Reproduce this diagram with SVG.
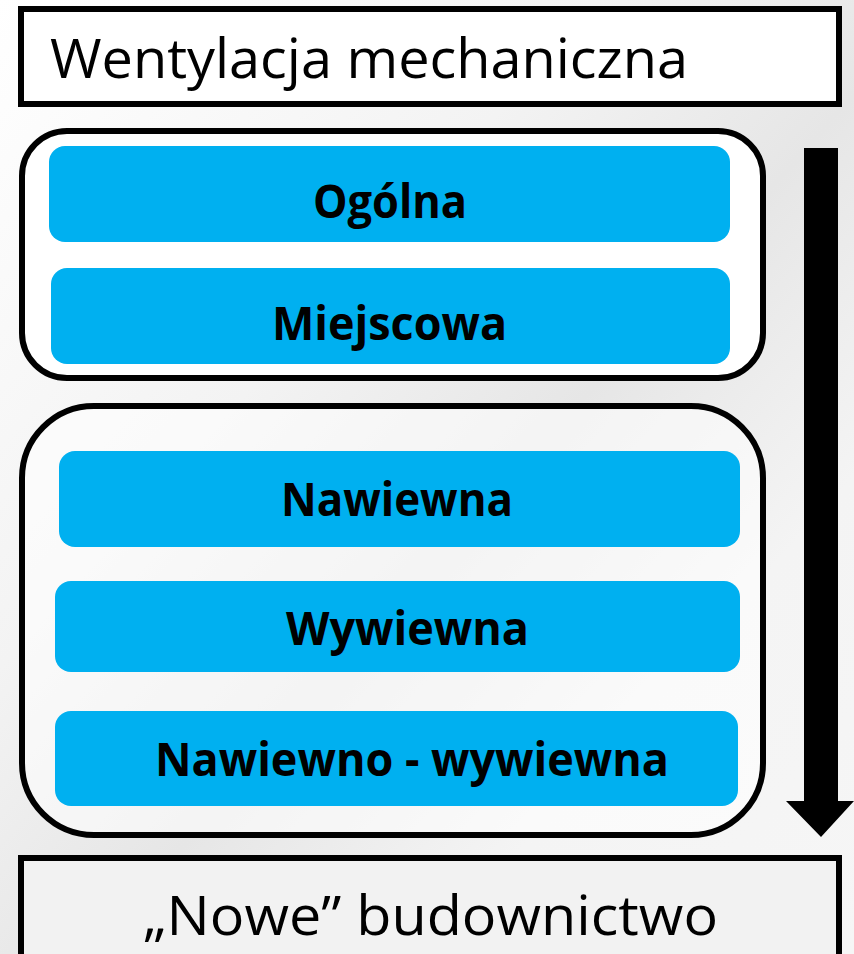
<svg xmlns="http://www.w3.org/2000/svg" width="854" height="954" viewBox="0 0 854 954">
  <defs>
    <linearGradient id="bg" x1="0" y1="0" x2="1" y2="1">
      <stop offset="0" stop-color="#ffffff"/>
      <stop offset="0.35" stop-color="#f3f3f3"/>
      <stop offset="0.55" stop-color="#e6e6e6"/>
      <stop offset="0.75" stop-color="#f4f4f4"/>
      <stop offset="1" stop-color="#f6f6f6"/>
    </linearGradient>
    <style>
      .frame { fill: none; stroke: #000; stroke-width: 6; }
      .blue { fill: #00B0F0; }
      .lbl { font-family: "Open Sans", "Noto Sans", sans-serif; font-weight: bold; font-size: 47px; fill: #000; }
      .big { font-family: "Open Sans", "Noto Sans", sans-serif; font-size: 54px; fill: #000; }
    </style>
  </defs>
  <rect x="0" y="0" width="854" height="954" fill="url(#bg)"/>

  <g id="title">
    <rect x="21" y="9" width="818" height="95" fill="#ffffff" stroke="#000" stroke-width="6"/>
    <text class="big" x="50" y="78" textLength="638" lengthAdjust="spacingAndGlyphs">Wentylacja mechaniczna</text>
  </g>

  <g id="group1">
    <rect class="frame" x="22" y="131" width="741" height="247" rx="45" fill="#ffffff" style="fill:#ffffff"/>
  </g>
  <g id="ogolna">
    <rect class="blue" x="49" y="146" width="681" height="96" rx="16"/>
    <text class="lbl" x="313" y="218" textLength="154" lengthAdjust="spacingAndGlyphs">Ogólna</text>
  </g>
  <g id="miejscowa">
    <rect class="blue" x="51" y="268" width="679" height="96" rx="16"/>
    <text class="lbl" x="272" y="340" textLength="235" lengthAdjust="spacingAndGlyphs">Miejscowa</text>
  </g>

  <g id="group2">
    <rect x="22" y="406" width="741" height="429" rx="72" fill="#ffffff" fill-opacity="0.55" stroke="#000" stroke-width="6"/>
  </g>
  <g id="nawiewna">
    <rect class="blue" x="59" y="451" width="681" height="96" rx="16"/>
    <text class="lbl" x="281" y="516" textLength="232" lengthAdjust="spacingAndGlyphs">Nawiewna</text>
  </g>
  <g id="wywiewna">
    <rect class="blue" x="55" y="581" width="685" height="91" rx="16"/>
    <text class="lbl" x="286" y="645" textLength="243" lengthAdjust="spacingAndGlyphs">Wywiewna</text>
  </g>
  <g id="nawiewno-wywiewna">
    <rect class="blue" x="55" y="711" width="683" height="95" rx="16"/>
    <text class="lbl" x="155" y="776" textLength="514" lengthAdjust="spacingAndGlyphs">Nawiewno - wywiewna</text>
  </g>

  <g id="connectors">
    <polygon points="804,148 838,148 838,801 854,801 821,837 786,801 804,801" fill="#000"/>
  </g>

  <g id="bottom">
    <rect x="21" y="858" width="818" height="110" fill="#f2f2f2" stroke="#000" stroke-width="6"/>
    <text class="big" x="143" y="935" textLength="575" lengthAdjust="spacingAndGlyphs">„Nowe” budownictwo</text>
  </g>
</svg>
